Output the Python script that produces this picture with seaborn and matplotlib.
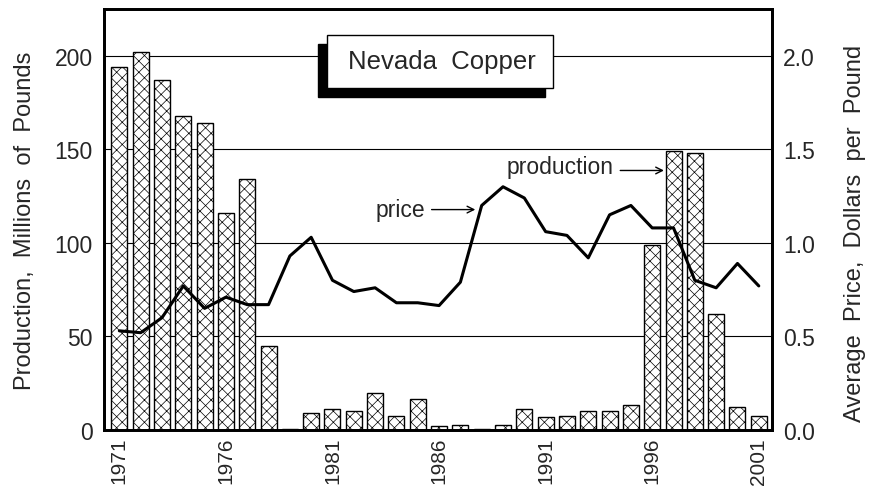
import numpy as np
import pandas as pd
import matplotlib
matplotlib.use("Agg")
import matplotlib.pyplot as plt
import seaborn as sns
from matplotlib.patches import Rectangle

years = list(range(1971, 2002))
production = [194, 202, 187, 168, 164, 116, 134, 45, 0.5, 8.9, 11.4, 10.3, 19.6, 7.3, 16.4,
              2.3, 2.8, 0.5, 2.8, 11.4, 6.8, 7.7, 10.3, 10.3, 13.4, 99, 149, 148, 62, 12.1, 7.3]
price = [0.53, 0.52, 0.60, 0.77, 0.65, 0.71, 0.67, 0.67, 0.93, 1.03, 0.80, 0.74, 0.76, 0.68, 0.68,
         0.665, 0.79, 1.20, 1.30, 1.24, 1.06, 1.04, 0.92, 1.15, 1.20, 1.08, 1.08, 0.80, 0.76, 0.89, 0.77]
left_ticks = [0, 50, 100, 150, 200]
right_ticks = [0.0, 0.5, 1.0, 1.5, 2.0]
xtick_years = [1971, 1976, 1981, 1986, 1991, 1996, 2001]

df = pd.DataFrame({"year": years, "production": production, "price": price})

sns.set_theme(style="white")
plt.rcParams['font.family'] = ['Liberation Sans', 'DejaVu Sans']
plt.rcParams['hatch.linewidth'] = 0.5
plt.rcParams['hatch.color'] = '#666666'

fig = plt.figure(figsize=(8.79, 4.89), dpi=100)
ax = fig.add_axes([104/879, 1-431/489, (772-104)/879, (431-10)/489])

for t in left_ticks[1:]:
    ax.axhline(t, color='black', lw=0.8, zorder=0)

sns.barplot(data=df, x="year", y="production", native_scale=True, width=0.75,
            color="white", edgecolor="black", linewidth=1.0, ax=ax, zorder=2)
for p in ax.patches:
    p.set_hatch('xxx')
    p.set_facecolor('white')

ax.set_xlim(1971-0.72, 2001+0.62)
ax.set_ylim(0, 225)
ax.set_yticks(left_ticks)
ax.set_xticks(xtick_years)
ax.set_xticklabels([str(y) for y in xtick_years], rotation=90, fontsize=15)
ax.tick_params(axis='y', labelsize=16.5, length=0, pad=8)
ax.tick_params(axis='x', length=0, pad=5)
ax.set_xlabel("")
ax.set_ylabel("Production,  Millions  of  Pounds", fontsize=17)
ax.yaxis.set_label_coords((36-104)/668, 0.5)
for s in ax.spines.values():
    s.set_linewidth(2.0)
    s.set_color('black')

ax2 = ax.twinx()
sns.lineplot(data=df, x="year", y="price", color="black", lw=2.2, ax=ax2, zorder=5)
ax2.set_ylim(0, 2.25)
ax2.set_yticks(right_ticks)
ax2.set_yticklabels([f"{v:.1f}" for v in right_ticks])
ax2.tick_params(axis='y', labelsize=16.5, length=0, pad=8)
ax2.set_ylabel("Average  Price,  Dollars  per  Pound", fontsize=17, rotation=90)
ax2.yaxis.set_label_coords((844-104)/668, (431-233)/421)
for s in ax2.spines.values():
    s.set_linewidth(2.0)
    s.set_color('black')

# title box with shadow
W, H = 879, 489
fig.patches.append(Rectangle((318/W, 1-98/H), (545-318)/W, (98-45)/H, transform=fig.transFigure,
                             facecolor='black', edgecolor='black', zorder=10))
fig.patches.append(Rectangle((327/W, 1-89/H), (553-327)/W, (89-36)/H, transform=fig.transFigure,
                             facecolor='white', edgecolor='black', lw=1.0, zorder=11))
fig.text(442/W, 1-62/H, "Nevada  Copper", fontsize=18.5, ha='center', va='center', zorder=12)

# annotations
ax2.text(1985.35, 1.18, "price", fontsize=16.5, ha='right', va='center')
ax2.annotate("", xy=(1987.7, 1.178), xytext=(1985.65, 1.178),
             arrowprops=dict(arrowstyle='->', lw=1.0, color='black', shrinkA=0, shrinkB=0))
ax.text(1994.2, 141, "production", fontsize=16.5, ha='right', va='center')
ax.annotate("", xy=(1996.55, 138.7), xytext=(1994.5, 138.7),
            arrowprops=dict(arrowstyle='->', lw=1.0, color='black', shrinkA=0, shrinkB=0))

fig.savefig("out.png", dpi=100)
